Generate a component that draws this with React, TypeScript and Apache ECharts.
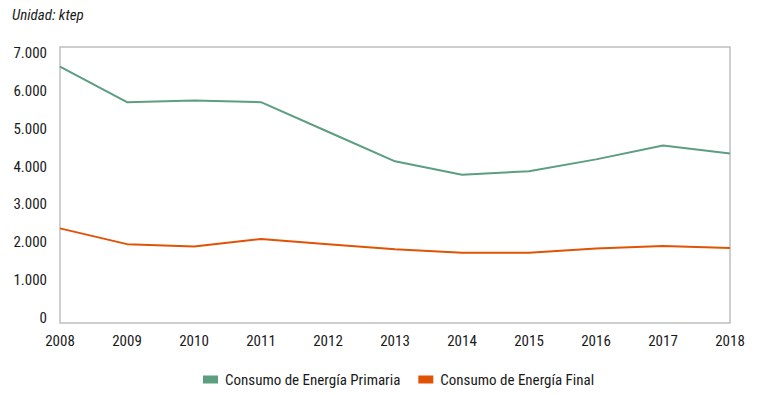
import React, { useEffect, useRef } from "react";
import * as echarts from "echarts";

const years = ["2008", "2009", "2010", "2011", "2012", "2013", "2014", "2015", "2016", "2017", "2018"];
const primaria = [6500, 5600, 5640, 5600, 4850, 4100, 3760, 3850, 4150, 4500, 4300];
const final = [2400, 2000, 1940, 2130, 2000, 1870, 1780, 1780, 1890, 1950, 1900];
const seriesNames = ["Consumo de Energía Primaria", "Consumo de Energía Final"];
const unitLabel = "Unidad: ktep";

const FONT = "'Roboto Condensed', 'Liberation Sans Narrow', 'DejaVu Sans Condensed', sans-serif";

export default function App() {
  const ref = useRef<HTMLDivElement>(null);
  useEffect(() => {
    if (!ref.current) return;
    const chart = echarts.init(ref.current, null, { renderer: "svg" });
    chart.setOption({
      animation: false,
      textStyle: { fontFamily: FONT },
      graphic: [
        {
          type: "text",
          left: 12,
          top: 7,
          style: { text: unitLabel, fontFamily: FONT, fontSize: 15, fontStyle: "italic", fill: "#1a1a1a" },
        },
      ],
      grid: [
        { left: 60, right: 27, top: 47, bottom: 72, show: true, borderColor: "#bfbfbf", borderWidth: 1.5, containLabel: false },
        { left: 60, right: 27, top: 53, bottom: 77, show: false, containLabel: false },
      ],
      legend: {
        bottom: 3,
        left: 198,
        icon: "rect",
        itemWidth: 15,
        itemHeight: 8,
        itemGap: 18,
        textStyle: { fontFamily: FONT, fontSize: 15, color: "#1a1a1a", padding: [0, 0, 0, 2] },
        data: seriesNames,
      },
      xAxis: [
        {
          type: "category",
          gridIndex: 0,
          data: years,
          boundaryGap: false,
          axisLine: { show: false },
          axisTick: { show: false },
          axisLabel: { fontFamily: FONT, fontSize: 15, color: "#1a1a1a", margin: 10 },
        },
        {
          type: "category",
          gridIndex: 1,
          data: years,
          show: false,
        },
      ],
      yAxis: [
        {
          type: "value",
          gridIndex: 0,
          min: 0,
          max: 7000,
          interval: 1000,
          axisLine: { show: false },
          axisTick: { show: false },
          splitLine: { show: false },
          axisLabel: { show: false },
        },
        {
          type: "value",
          gridIndex: 1,
          min: 0,
          max: 7000,
          interval: 1000,
          axisLine: { show: false },
          axisTick: { show: false },
          splitLine: { show: false },
          axisLabel: {
            fontFamily: FONT,
            fontSize: 15,
            color: "#1a1a1a",
            margin: 13,
            formatter: (v: number) => v.toLocaleString("de-DE"),
          },
        },
      ],
      series: [
        {
          name: seriesNames[0],
          type: "line",
          xAxisIndex: 0,
          yAxisIndex: 0,
          data: primaria,
          symbol: "none",
          lineStyle: { color: "#5b9e80", width: 2 },
          itemStyle: { color: "#5b9e80" },
        },
        {
          name: seriesNames[1],
          type: "line",
          xAxisIndex: 0,
          yAxisIndex: 0,
          data: final,
          symbol: "none",
          lineStyle: { color: "#e05206", width: 2 },
          itemStyle: { color: "#e05206" },
        },
      ],
    });
    return () => chart.dispose();
  }, []);
  return <div ref={ref} style={{ width: 757, height: 395, position: "absolute", left: 0, top: 0 }} />;
}
